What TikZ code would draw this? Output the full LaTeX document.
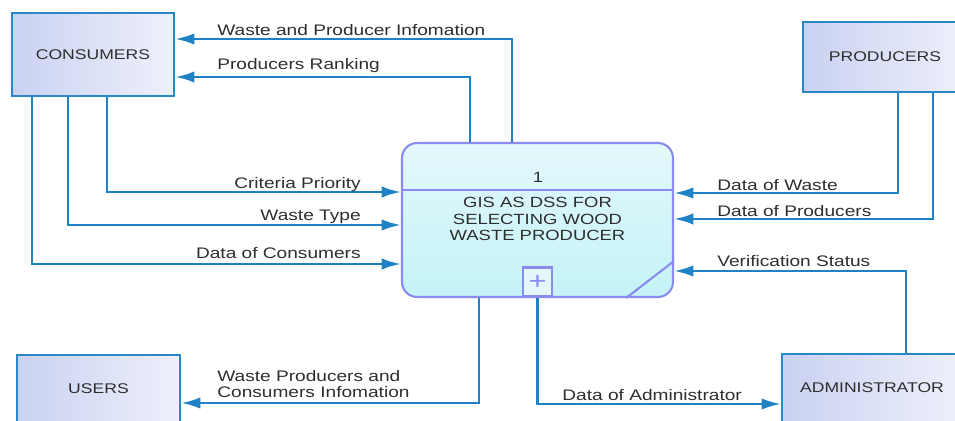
\documentclass[tikz,border=0pt]{standalone}
\usepackage{fontspec}
\setmainfont{Liberation Sans}[FakeStretch=1.25]
\usetikzlibrary{arrows.meta}

\definecolor{flowblue}{HTML}{1E82C4}
\definecolor{boxedge}{HTML}{2A88C6}
\definecolor{procedge}{HTML}{8A8AF0}
\definecolor{txtgray}{HTML}{2E2E2E}
\definecolor{entleft}{HTML}{CAD2F2}
\definecolor{entright}{HTML}{EEF0FB}
\definecolor{proctop}{HTML}{E4F8FB}
\definecolor{procbot}{HTML}{C4F3F7}

\begin{document}
\begin{tikzpicture}[x=0.02cm, y=-0.02cm, text=txtgray,
entity/.style={draw=boxedge, line width=1.3pt, left color=entleft, right color=entright,
  font={\fontsize{8}{9.6}\selectfont}},
process/.style={draw=procedge, line width=1.2pt, rounded corners=0.3cm,
  top color=proctop, bottom color=procbot, minimum width=5.42cm, minimum height=3.08cm},
procline/.style={draw=procedge, line width=1.5pt},
flow/.style={draw=flowblue, line width=1.5pt, -{Latex[length=11pt, width=6.5pt]}},
lbl/.style={inner sep=0pt, font={\fontsize{8.7}{9.1}\selectfont}},
]

\useasboundingbox (0,0) rectangle (955,421);
\clip (0,0) rectangle (955,421);

% external entities
\node[entity, minimum width=3.24cm, minimum height=1.66cm] (cons) at (93,54.5) {CONSUMERS};
\node[entity, minimum width=3.28cm, minimum height=1.4cm] (prod) at (885,57) {PRODUCERS};
\node[entity, minimum width=3.26cm, minimum height=1.34cm] (users) at (98.5,388.5) {USERS};
\node[entity, minimum width=3.6cm, minimum height=1.36cm] (admin) at (872,388) {ADMINISTRATOR};

% process
\node[process] (proc) at (537.5,220) {};
\draw[procline] (proc.west |- 0,190) -- (proc.east |- 0,190);
\node[font={\fontsize{8.4}{9.6}\selectfont}] (num) at (538,177) {1};
\node[align=center, font={\fontsize{8.4}{9.6}\selectfont}] (title) at (537.5,219)
  {GIS AS DSS FOR\\SELECTING WOOD\\WASTE PRODUCER};
\node[draw=procedge, line width=1.5pt, fill=proctop, text=procedge, minimum size=0.58cm,
  inner sep=0pt, anchor=south, font={\fontsize{14}{14}\selectfont}] (plus) at (proc.south) {+};
\draw[draw=procedge, line width=1.2pt] ([xshift=-0.96cm]proc.south east) -- ([yshift=0.74cm]proc.south east);

% data flows
\draw[flow] (proc.north -| 512,0) |- (cons.east |- 0,39);
\draw[flow] (proc.north -| 470,0) |- (cons.east |- 0,77);
\draw[flow] (cons.south -| 107,0) |- (proc.west |- 0,192);
\draw[flow] (cons.south -| 68,0) |- (proc.west |- 0,225);
\draw[flow] (cons.south -| 32,0) |- (proc.west |- 0,264);
\draw[flow] (prod.south -| 898,0) |- (proc.east |- 0,193);
\draw[flow] (prod.south -| 933,0) |- (proc.east |- 0,219);
\draw[flow] (admin.north -| 906,0) |- (proc.east |- 0,271);
\draw[flow] (plus.south) |- (admin.west |- 0,404);
\draw[flow] (proc.south -| 479,0) |- (users.east |- 0,403);

% flow labels
\node[lbl, anchor=base west] (wpi) at (217,36) {Waste and Producer Infomation};
\node[lbl, anchor=base west] (rank) at (217,70) {Producers Ranking};
\node[lbl, anchor=base east] (crit) at (361,189) {Criteria Priority};
\node[lbl, anchor=base east] (wtype) at (361,221) {Waste Type};
\node[lbl, anchor=base east] (dcons) at (361,259) {Data of Consumers};
\node[lbl, anchor=base west] (dwaste) at (717,191) {Data of Waste};
\node[lbl, anchor=base west] (dprod) at (717,217) {Data of Producers};
\node[lbl, anchor=base west] (verif) at (717,267) {Verification Status};
\node[lbl, anchor=base west] (dadmin) at (562,400) {Data of Administrator};
\node[lbl, anchor=south west, align=left] (wpci) at (217,398) {Waste Producers and\\Consumers Infomation};

\end{tikzpicture}
\end{document}
